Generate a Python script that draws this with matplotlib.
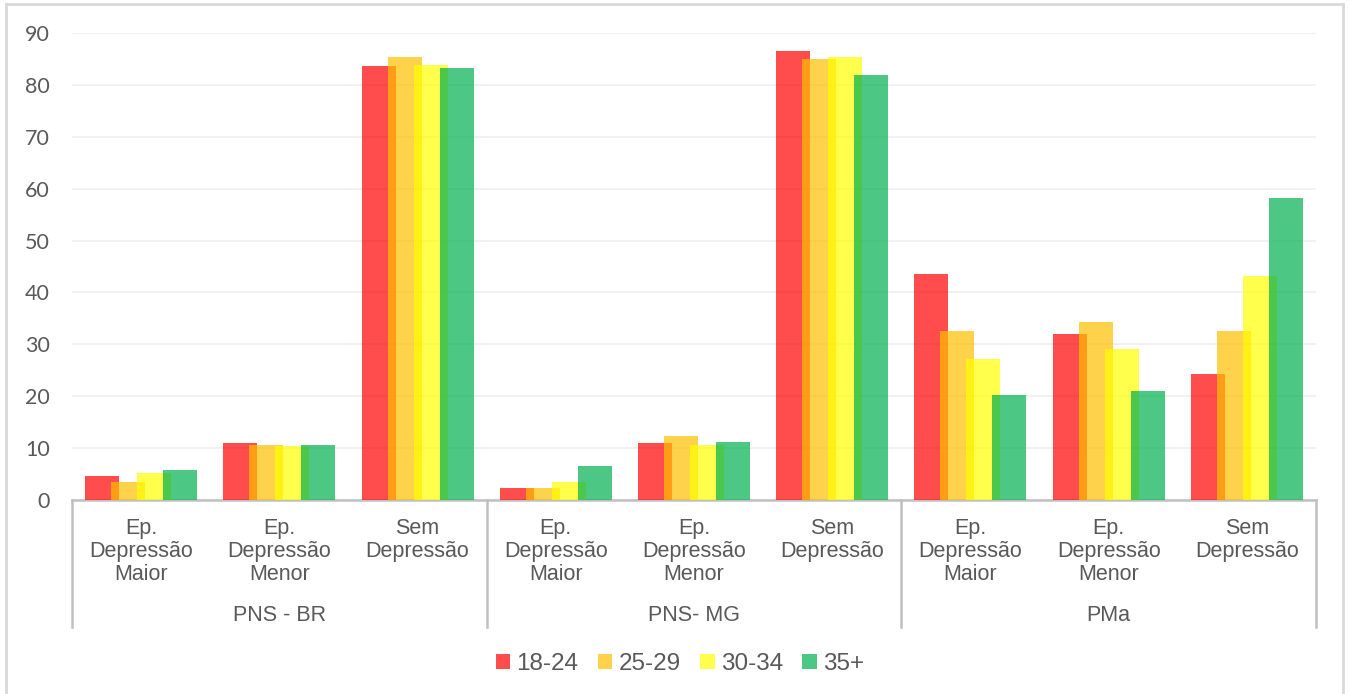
import numpy as np
import matplotlib.pyplot as plt
from matplotlib.patches import Patch
import matplotlib.transforms as mtransforms

plt.rcParams['font.family'] = ['Liberation Sans', 'DejaVu Sans']

# ---------------- dados ----------------
grupos = ['PNS - BR', 'PNS- MG', 'PMa']
categorias = ['Ep.\nDepressão\nMaior', 'Ep.\nDepressão\nMenor', 'Sem\nDepressão']
faixas = ['18-24', '25-29', '30-34', '35+']

v_18_24 = [4.7, 10.9, 83.7, 2.3, 11.0, 86.5, 43.5, 31.9, 24.2]
v_25_29 = [3.5, 10.6, 85.4, 2.3, 12.3, 85.0, 32.6, 34.3, 32.6]
v_30_34 = [5.2, 10.4, 83.9, 3.5, 10.6, 85.3, 27.2, 29.1, 43.2]
v_35_mais = [5.7, 10.6, 83.2, 6.5, 11.2, 82.0, 20.2, 21.0, 58.2]

series = [v_18_24, v_25_29, v_30_34, v_35_mais]
cores = ['#FF0000', '#FFC000', '#FFFF00', '#00B050']
cinza = '#595959'

# ---------------- figura ----------------
fig = plt.figure(figsize=(13.49, 6.94), dpi=100, facecolor='white')
ax = fig.add_axes([72/1349, 1 - 500/694, (1316 - 72)/1349, (500 - 33)/694])

n_cat = len(grupos) * len(categorias)
x = np.arange(n_cat)
largura = 0.246
passo = 0.188
for i, (vals, cor) in enumerate(zip(series, cores)):
    ax.bar(x + (i - 1.5) * passo, vals, width=largura, color=cor, alpha=0.7,
           edgecolor='none', zorder=3, label=faixas[i])

ax.set_xlim(-0.5, n_cat - 0.5)
ax.set_ylim(0, 90)
ax.set_yticks(np.arange(0, 91, 10))
ax.tick_params(axis='y', length=0, pad=16, labelsize=15.5, labelcolor=cinza)
for t in ax.get_yticklabels():
    t.set_family(['Lato', 'DejaVu Sans'])
ax.grid(axis='y', color='#efefef', linewidth=1.2, zorder=0)
ax.set_axisbelow(True)

for s in ['left', 'right', 'top']:
    ax.spines[s].set_visible(False)
ax.spines['bottom'].set_color('#c0c0c0')
ax.spines['bottom'].set_linewidth(1.8)

# rótulos de categoria (multinível)
ax.set_xticks(x)
ax.set_xticklabels(categorias * len(grupos), fontsize=15.5, color=cinza,
                   linespacing=1.13, va='top')
ax.tick_params(axis='x', length=0, pad=13)

trans = mtransforms.blended_transform_factory(ax.transData, ax.transAxes)
for g, nome in enumerate(grupos):
    ax.text(g * 3 + 1, -0.248, nome, transform=trans, ha='center', va='center',
            fontsize=15.5, color=cinza)
for b in range(len(grupos) + 1):
    xb = b * 3 - 0.5
    ax.plot([xb, xb], [0, -0.273], transform=trans, color='#c0c0c0',
            linewidth=1.8, clip_on=False)

# legenda
handles = [Patch(facecolor=c, alpha=0.7, edgecolor='none') for c in cores]
leg = fig.legend(handles, faixas, loc='center', bbox_to_anchor=(680/1349, 1 - 664/694),
                 ncol=4, frameon=False, fontsize=17.5, handlelength=0.6, handleheight=0.6,
                 handletextpad=0.25, columnspacing=0.8, labelcolor=cinza)

# moldura externa
borda = '#d9d9d9'
fig.add_artist(plt.Line2D([6/1349, 6/1349], [0, 1 - 4/694], color=borda, linewidth=2))
fig.add_artist(plt.Line2D([1343/1349, 1343/1349], [0, 1 - 4/694], color=borda, linewidth=2))
fig.add_artist(plt.Line2D([6/1349, 1343/1349], [1 - 4/694, 1 - 4/694], color=borda, linewidth=2))

fig.savefig('out.png', dpi=100, facecolor='white')
